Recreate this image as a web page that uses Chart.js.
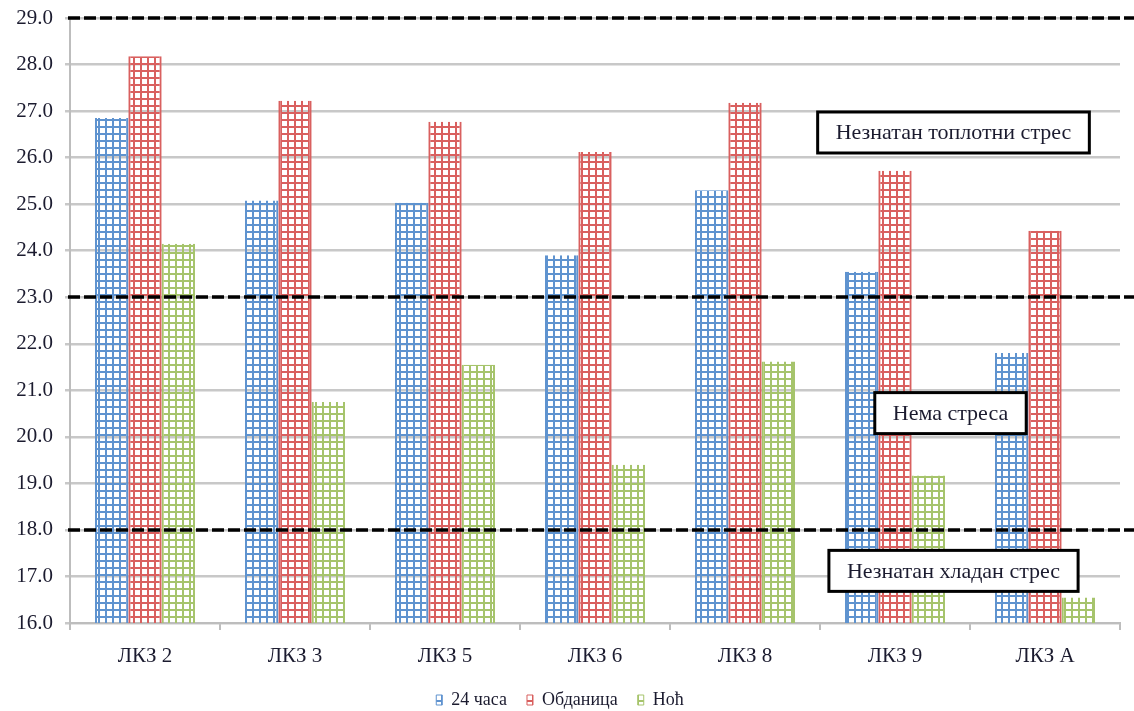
<!DOCTYPE html>
<html>
<head>
<meta charset="utf-8">
<script src="https://cdn.jsdelivr.net/npm/chart.js@4.4.1/dist/chart.umd.min.js"></script>
<style>
  html, body { margin: 0; padding: 0; background: #fff; }
  #wrap { width: 1134px; height: 711px; }
</style>
</head>
<body>
<div id="wrap"><canvas id="chart"></canvas></div>
<script>
const categories = ['ЛКЗ 2', 'ЛКЗ 3', 'ЛКЗ 5', 'ЛКЗ 6', 'ЛКЗ 8', 'ЛКЗ 9', 'ЛКЗ А'];
const seriesNames = ['24 часа', 'Обданица', 'Ноћ'];
const hours24 = [26.85, 25.08, 25.03, 23.9, 25.3, 23.55, 21.8];
const daytime = [28.18, 27.22, 26.77, 26.12, 27.18, 25.72, 24.43];
const night = [24.15, 20.75, 21.55, 19.4, 21.62, 19.17, 16.55];
const yMin = 16, yMax = 29;

// stress limits and the zone labels (positions in category / value units)
const thresholds = [29, 23, 18];
const zoneLabels = ['Незнатан топлотни стрес', 'Нема стреса', 'Незнатан хладан стрес'];
const zoneX = [5.39, 5.37, 5.39];
const zoneY = [26.54, 20.51, 17.12];

const colors = ['#5f93cf', '#d9605f', '#a6c46c'];
const serif = '"Liberation Serif", "DejaVu Serif", serif';
const textColor = '#1b1b2f';

function makePattern(color) {
    const c = document.createElement('canvas');
    c.width = 7; c.height = 7;
    const g = c.getContext('2d');
    g.fillStyle = color;
    g.fillRect(0, 0, 2, 7);
    g.fillRect(0, 0, 7, 2);
    return g.createPattern(c, 'repeat');
}

const linesAndBoxes = {
    id: 'linesAndBoxes',
    afterLayout(chart) {
        // nudge the legend a little lower, as in the original
        chart.legend.top += 8;
        chart.legend.bottom += 8;
    },
    afterDatasetsDraw(chart) {
        const ctx = chart.ctx;
        const x = chart.scales.x, y = chart.scales.y;
        const area = chart.chartArea;
        ctx.save();
        ctx.strokeStyle = '#000';
        ctx.lineWidth = 3.5;
        ctx.setLineDash([12, 4]);
        thresholds.forEach(t => {
            const py = Math.round(y.getPixelForValue(t));
            ctx.beginPath();
            ctx.moveTo(area.left - 2, py);
            ctx.lineTo(chart.width, py);
            ctx.stroke();
        });
        ctx.setLineDash([]);
        ctx.font = '22px ' + serif;
        ctx.textAlign = 'center';
        ctx.textBaseline = 'middle';
        zoneLabels.forEach((label, i) => {
            const cx = x.getPixelForValue(zoneX[i]);
            const cy = y.getPixelForValue(zoneY[i]);
            const w = ctx.measureText(label).width + 36;
            const h = 41;
            ctx.fillStyle = '#fff';
            ctx.fillRect(cx - w / 2, cy - h / 2, w, h);
            ctx.lineWidth = 3;
            ctx.strokeStyle = '#000';
            ctx.strokeRect(cx - w / 2, cy - h / 2, w, h);
            ctx.fillStyle = textColor;
            ctx.fillText(label, cx, cy + 1);
        });
        ctx.restore();
    }
};

const values = [hours24, daytime, night];

new Chart(document.getElementById('chart'), {
    type: 'bar',
    data: {
        labels: categories,
        datasets: values.map((v, i) => ({
            label: seriesNames[i],
            data: v,
            backgroundColor: makePattern(colors[i]),
            borderColor: colors[i],
            borderWidth: { left: 2, right: 2, top: 0, bottom: 0 },
            borderSkipped: 'start',
            categoryPercentage: 0.667,
            barPercentage: 1.0
        }))
    },
    options: {
        responsive: true,
        maintainAspectRatio: false,
        animation: false,
        layout: { padding: { top: 18, right: 14, left: 0, bottom: 0 } },
        scales: {
            x: {
                grid: {
                    offset: true,
                    drawOnChartArea: false,
                    drawTicks: true,
                    tickLength: 7,
                    color: '#bdbdbd',
                    lineWidth: 2
                },
                border: { color: '#bdbdbd', width: 2 },
                ticks: { font: { family: serif, size: 21 }, color: textColor, padding: 14 },
                afterFit(scale) { scale.height = 40; }
            },
            y: {
                min: yMin,
                max: yMax,
                grid: { color: '#c8c8c8', lineWidth: 2.5, tickLength: 5 },
                border: { color: '#bdbdbd', width: 2 },
                ticks: {
                    stepSize: 1,
                    font: { family: serif, size: 21 },
                    color: textColor,
                    padding: 12,
                    callback: v => v.toFixed(1)
                },
                afterFit(scale) {
                    scale.width = 70;
                    scale.paddingTop = 0;
                    scale.paddingBottom = 0;
                }
            }
        },
        plugins: {
            legend: {
                position: 'bottom',
                labels: {
                    font: { family: serif, size: 18 },
                    color: textColor,
                    boxWidth: 6,
                    boxHeight: 10,
                    padding: 20
                }
            },
            tooltip: { enabled: false }
        }
    },
    plugins: [linesAndBoxes]
});
</script>
</body>
</html>
